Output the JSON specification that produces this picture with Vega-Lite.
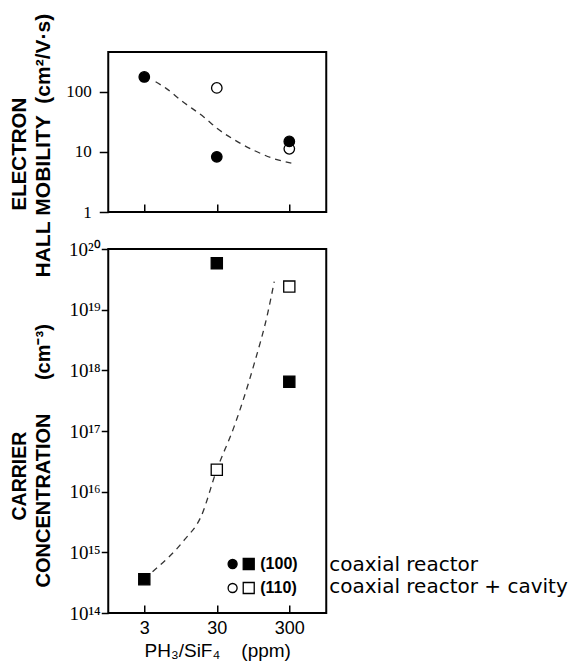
{
  "$schema": "https://vega.github.io/schema/vega-lite/v6.json",
  "background": "white",
  "padding": {"left": 8.25, "top": 12, "right": 0, "bottom": 0},
  "datasets": {
    "mobility": [
      {"ratio": 30, "mobility": 117, "orientation": "(110)", "reactor": "coaxial reactor + cavity"},
      {"ratio": 300, "mobility": 11.3, "orientation": "(110)", "reactor": "coaxial reactor + cavity"},
      {"ratio": 3, "mobility": 178, "orientation": "(100)", "reactor": "coaxial reactor"},
      {"ratio": 30, "mobility": 8.3, "orientation": "(100)", "reactor": "coaxial reactor"},
      {"ratio": 300, "mobility": 15, "orientation": "(100)", "reactor": "coaxial reactor"}
    ],
    "mobilityFit": [
      {"ratio": 4.3, "mobility": 148},
      {"ratio": 6, "mobility": 115},
      {"ratio": 10, "mobility": 70},
      {"ratio": 20, "mobility": 38},
      {"ratio": 30, "mobility": 25},
      {"ratio": 60, "mobility": 14.5},
      {"ratio": 100, "mobility": 10.5},
      {"ratio": 180, "mobility": 7.8},
      {"ratio": 320, "mobility": 6.5}
    ],
    "carrier": [
      {"ratio": 30, "concentration": 2.3e16, "orientation": "(110)", "reactor": "coaxial reactor + cavity"},
      {"ratio": 300, "concentration": 2.4e19, "orientation": "(110)", "reactor": "coaxial reactor + cavity"},
      {"ratio": 3, "concentration": 3.6e14, "orientation": "(100)", "reactor": "coaxial reactor"},
      {"ratio": 30, "concentration": 5.8e19, "orientation": "(100)", "reactor": "coaxial reactor"},
      {"ratio": 300, "concentration": 6.5e17, "orientation": "(100)", "reactor": "coaxial reactor"}
    ],
    "carrierFit": [
      {"ratio": 3.9, "concentration": 4.8e14},
      {"ratio": 10.7, "concentration": 1.6e15},
      {"ratio": 18.2, "concentration": 3.9e15},
      {"ratio": 30, "concentration": 2.3e16},
      {"ratio": 52, "concentration": 1.18e17},
      {"ratio": 98.7, "concentration": 1.3e18},
      {"ratio": 151, "concentration": 8.7e18},
      {"ratio": 186, "concentration": 2.9e19}
    ]
  },
  "spacing": 37,
  "bounds": "flush",
  "vconcat": [
    {
      "width": 218,
      "height": 160,
      "resolve": {"scale": {"y": "independent"}},
      "layer": [
        {
          "data": {"name": "mobilityFit"},
          "mark": {"type": "line", "strokeDash": [6, 5], "strokeWidth": 1.3, "color": "#333", "interpolate": "monotone"},
          "encoding": {
            "x": {
              "field": "ratio", "type": "quantitative",
              "scale": {"type": "log", "domain": [0.955, 970], "nice": false},
              "axis": {"values": [3, 30, 300], "labels": false, "tickSize": -8, "title": null}
            },
            "y": {
              "field": "mobility", "type": "quantitative",
              "scale": {"type": "log", "domain": [1, 464], "nice": false},
              "axis": {
                "orient": "left", "values": [], "ticks": false, "labels": false,
                "title": "HALL\u00a0MOBILITY\u00a0\u00a0(cm²/V·s)",
                "titleFont": "Liberation Sans", "titleFontWeight": "bold", "titleFontSize": 21,
                "titleAngle": 270, "titleAlign": "left", "titleBaseline": "middle",
                "titleX": -64.5, "titleY": 225, "titleLimit": 400
              }
            }
          }
        },
        {
          "data": {"name": "mobility"},
          "mark": {"type": "point", "shape": "circle", "size": 110, "filled": true, "stroke": "black", "strokeWidth": 1.3, "opacity": 1},
          "encoding": {
            "x": {"field": "ratio", "type": "quantitative"},
            "y": {
              "field": "mobility", "type": "quantitative",
              "scale": {"type": "log", "domain": [1, 464], "nice": false},
              "axis": {
                "orient": "left", "values": [1, 10, 100], "format": "d", "tickSize": 9, "labelPadding": 8,
                "labelFont": "Liberation Sans Narrow", "labelFontSize": 17,
                "title": "ELECTRON",
                "titleFont": "Liberation Sans", "titleFontWeight": "bold", "titleFontSize": 20.5,
                "titleAngle": 270, "titleAlign": "left", "titleBaseline": "middle",
                "titleX": -88.5, "titleY": 158, "titleLimit": 400
              }
            },
            "fill": {
              "field": "orientation", "type": "nominal",
              "scale": {"domain": ["(100)", "(110)"], "range": ["black", "white"]},
              "legend": {
                "orient": "none", "legendX": 124.5, "legendY": 504, "title": null, "padding": 0,
                "symbolType": "M -2.3 0 A 0.82 0.82 0 1 1 -0.66 0 A 0.82 0.82 0 1 1 -2.3 0 Z M 0.45 -1 L 2.45 -1 L 2.45 1 L 0.45 1 Z",
                "symbolSize": 121, "symbolStrokeColor": "black", "symbolStrokeWidth": 1.3,
                "labelFont": "Liberation Sans", "labelFontWeight": "bold", "labelFontSize": 16,
                "labelColor": "black", "labelOffset": 11.5, "rowPadding": 6
              }
            }
          }
        }
      ]
    },
    {
      "width": 218,
      "height": 364,
      "resolve": {"scale": {"y": "independent"}},
      "layer": [
        {
          "data": {"name": "carrierFit"},
          "mark": {"type": "line", "strokeDash": [6, 5], "strokeWidth": 1.3, "color": "#333", "interpolate": "monotone"},
          "encoding": {
            "x": {
              "field": "ratio", "type": "quantitative",
              "scale": {"type": "log", "domain": [0.955, 970], "nice": false},
              "axis": {
                "values": [3, 30, 300], "format": "d", "tickSize": -8, "labelPadding": 14,
                "labelFont": "Liberation Sans", "labelFontSize": 18,
                "title": "PH₃/SiF₄\u00a0\u00a0\u00a0\u00a0(ppm)",
                "titleFont": "Liberation Sans", "titleFontWeight": "normal", "titleFontSize": 19,
                "titleBaseline": "top", "titleAlign": "center", "titleX": 109, "titleY": 28
              }
            },
            "y": {
              "field": "concentration", "type": "quantitative",
              "scale": {"type": "log", "domain": [1e14, 1e20], "nice": false},
              "axis": {
                "orient": "left", "values": [], "ticks": false, "labels": false,
                "title": "CONCENTRATION\u00a0\u00a0\u00a0\u00a0\u00a0\u00a0(cm⁻³)",
                "titleFont": "Liberation Sans", "titleFontWeight": "bold", "titleFontSize": 20,
                "titleAngle": 270, "titleAlign": "left", "titleBaseline": "middle",
                "titleX": -64.5, "titleY": 338, "titleLimit": 400
              }
            }
          }
        },
        {
          "data": {"name": "carrier"},
          "mark": {"type": "point", "opacity": 0},
          "encoding": {
            "x": {"field": "ratio", "type": "quantitative"},
            "y": {
              "field": "concentration", "type": "quantitative",
              "scale": {"type": "log", "domain": [1e14, 1e20], "nice": false},
              "axis": null
            },
            "shape": {
              "field": "reactor", "type": "nominal",
              "scale": {"domain": ["coaxial reactor", "coaxial reactor + cavity"]},
              "legend": {
                "orient": "none", "legendX": 201, "legendY": 503, "title": null, "padding": 0,
                "symbolOpacity": 0, "symbolSize": 0, "labelOffset": 0,
                "labelFont": "DejaVu Sans", "labelFontSize": 20, "labelColor": "black",
                "labelLimit": 400, "rowPadding": 2
              }
            }
          }
        },
        {
          "data": {"name": "carrier"},
          "mark": {"type": "square", "size": 125, "filled": true, "stroke": "black", "strokeWidth": 1.3, "opacity": 1},
          "encoding": {
            "x": {"field": "ratio", "type": "quantitative"},
            "y": {
              "field": "concentration", "type": "quantitative",
              "scale": {"type": "log", "domain": [1e14, 1e20], "nice": false},
              "axis": {
                "orient": "left",
                "values": [1e14, 1e15, 1e16, 1e17, 1e18, 1e19, 1e20],
                "labelExpr": "['10¹⁴','10¹⁵','10¹⁶','10¹⁷','10¹⁸','10¹⁹','10²⁰'][round(log(datum.value)/LN10) - 14]",
                "tickSize": 7, "labelPadding": 1,
                "labelFont": "Liberation Sans Narrow", "labelFontSize": 19,
                "title": "CARRIER",
                "titleFont": "Liberation Sans", "titleFontWeight": "bold", "titleFontSize": 19.5,
                "titleAngle": 270, "titleAlign": "left", "titleBaseline": "middle",
                "titleX": -88.5, "titleY": 271, "titleLimit": 400
              }
            },
            "fill": {
              "field": "orientation", "type": "nominal",
              "scale": {"domain": ["(100)", "(110)"], "range": ["black", "white"]},
              "legend": {
                "orient": "none", "legendX": 124.5, "legendY": 504, "title": null, "padding": 0,
                "symbolType": "M -2.3 0 A 0.82 0.82 0 1 1 -0.66 0 A 0.82 0.82 0 1 1 -2.3 0 Z M 0.45 -1 L 2.45 -1 L 2.45 1 L 0.45 1 Z",
                "symbolSize": 121, "symbolStrokeColor": "black", "symbolStrokeWidth": 1.3,
                "labelFont": "Liberation Sans", "labelFontWeight": "bold", "labelFontSize": 16,
                "labelColor": "black", "labelOffset": 11.5, "rowPadding": 6
              }
            }
          }
        }
      ]
    }
  ],
  "config": {
    "view": {"stroke": "black", "strokeWidth": 2},
    "axis": {
      "domain": false, "grid": false,
      "tickColor": "black", "tickWidth": 1.5,
      "labelColor": "black", "titleColor": "black"
    }
  }
}
